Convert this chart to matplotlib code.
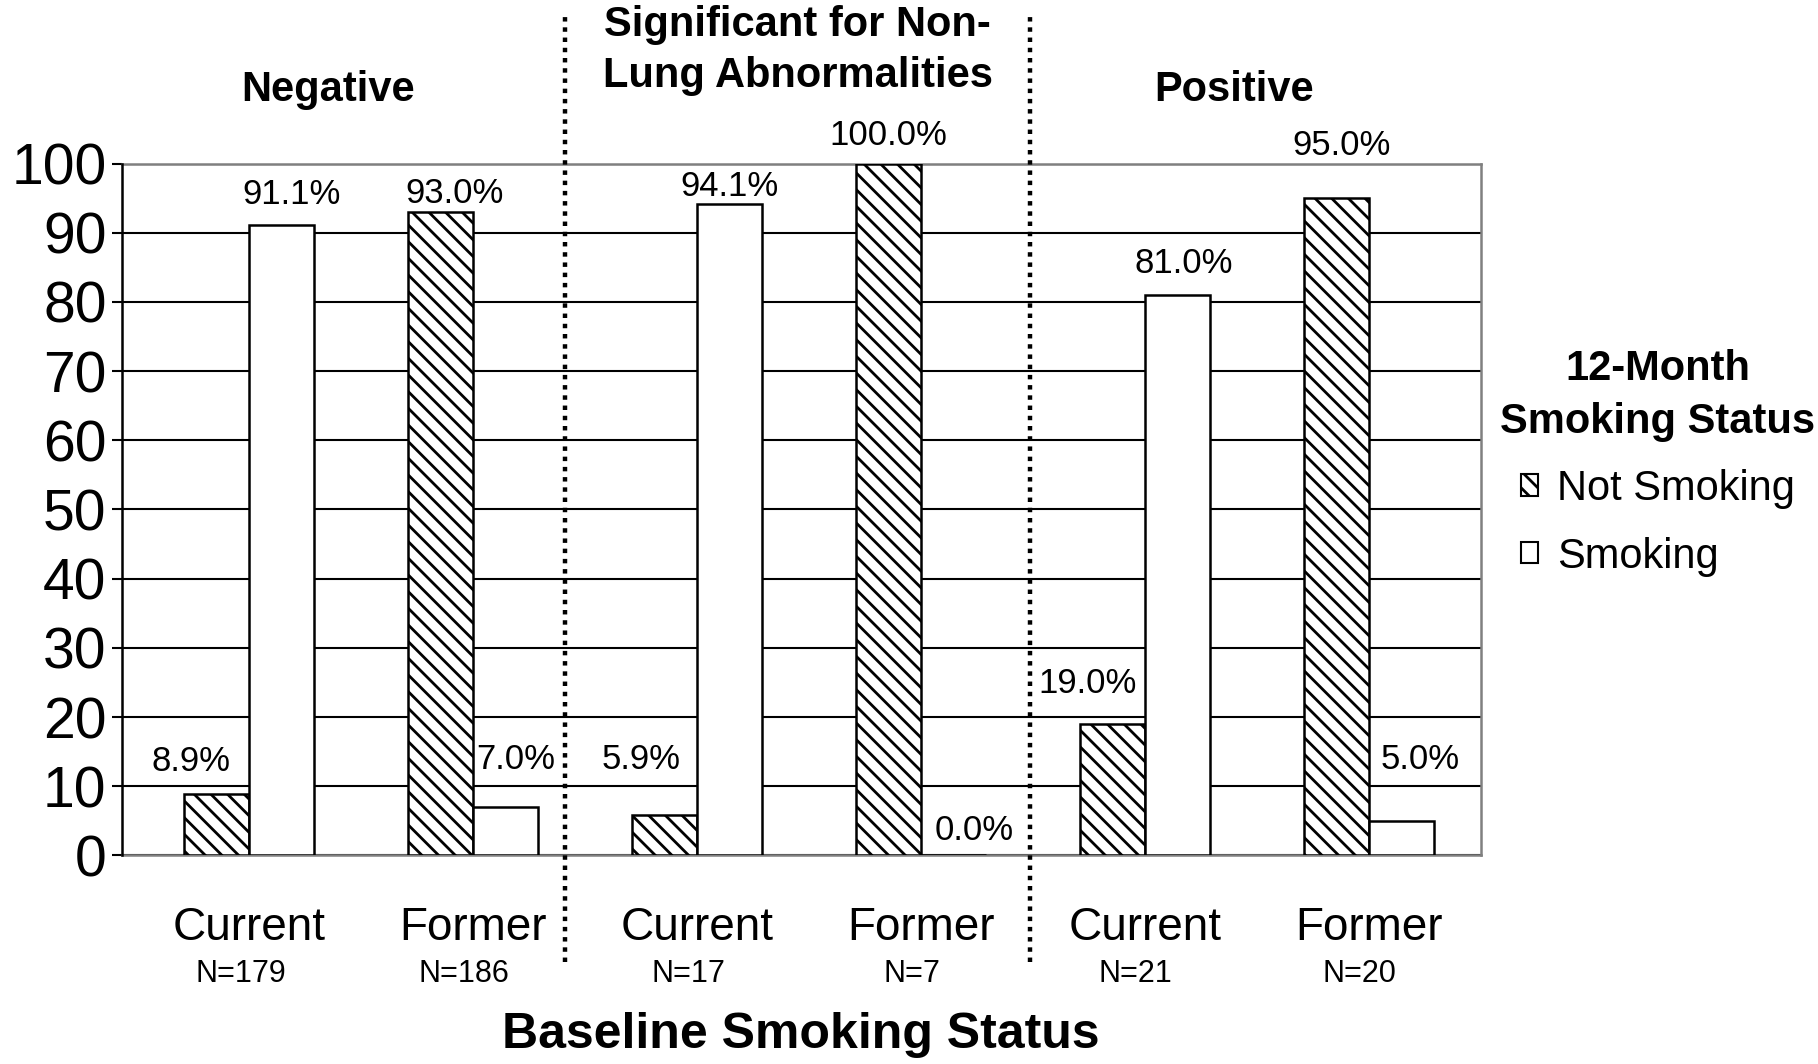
import numpy as np
import matplotlib
matplotlib.use("Agg")
import matplotlib.pyplot as plt
from matplotlib.patches import Patch

plt.rcParams['font.family'] = ['Liberation Sans', 'DejaVu Sans']
plt.rcParams['hatch.linewidth'] = 2.0

# data
categories = ["Current", "Former", "Current", "Former", "Current", "Former"]
sample_sizes = ["N=179", "N=186", "N=17", "N=7", "N=21", "N=20"]
not_smoking = [8.9, 93.0, 5.9, 100.0, 19.0, 95.0]
smoking = [91.1, 7.0, 94.1, 0.0, 81.0, 5.0]
sections = ["Negative", "Significant for Non-\nLung Abnormalities", "Positive"]

# label nudges (points), as placed by hand in the original
ns_dx = [-19, 10, -17, 0, -18, 4]
ns_dy = [23, 13, 40, 20, 29, 38]
sm_dx = [7, 7, 0, 15, 5, 14]
sm_dy = [22, 34, 13, 18, 23, 44]

fig = plt.figure(figsize=(18.18, 10.64), dpi=100)
ax = fig.add_axes([0.067, 0.196, 0.7474, 0.6503])

x = np.arange(len(categories))
w = 0.29

ax.set_xlim(-0.57, len(categories) - 0.5)
ax.set_ylim(0, 100)
ax.set_yticks(np.arange(0, 101, 10))
ax.yaxis.grid(True, color="black", linewidth=1.5, zorder=0)
ax.set_axisbelow(True)

b1 = ax.bar(x - w / 2, not_smoking, w, facecolor="white", edgecolor="black",
            hatch="\\\\", linewidth=1.8, zorder=3)
b2 = ax.bar(x + w / 2, smoking, w, facecolor="white", edgecolor="black",
            linewidth=1.8, zorder=3)

# value labels
for bars, vals, dxs, dys in [(b1, not_smoking, ns_dx, ns_dy), (b2, smoking, sm_dx, sm_dy)]:
    for rect, v, dx, dy in zip(bars, vals, dxs, dys):
        ax.annotate(f"{v:.1f}%", (rect.get_x() + rect.get_width() / 2, v),
                    xytext=(dx, dy), textcoords="offset points",
                    ha="center", va="center", fontsize=25, zorder=6)

# spines
for side in ["top", "right", "bottom"]:
    ax.spines[side].set_color("#808080")
    ax.spines[side].set_linewidth(1.8)
ax.spines["left"].set_color("black")
ax.spines["left"].set_linewidth(1.8)
ax.spines["left"].set_zorder(4)

ax.tick_params(axis="y", labelsize=41, length=7, width=1.5, pad=4)
ax.set_xticks(x)
ax.set_xticklabels([])
ax.tick_params(axis="x", length=0)

# category labels and sample sizes
trans = ax.get_xaxis_transform()
for xi, cat, n in zip(x, categories, sample_sizes):
    ax.text(xi, -0.105, cat, transform=trans, ha="center", va="center", fontsize=33)
    ax.text(xi - 0.04, -0.172, n, transform=trans, ha="center", va="center", fontsize=22)

ax.text(0.5, -0.259, "Baseline Smoking Status", transform=ax.transAxes,
        ha="center", va="center", fontsize=36, fontweight="bold")

# section separators and headers
for sx in [1.41, 3.487]:
    ax.axvline(sx, ymin=-0.154, ymax=1.212, color="black", linestyle=(0, (1, 1.3)),
               linewidth=3.2, clip_on=False, zorder=5)

for sx, sy, name in zip([0.352, 2.45, 4.40], [1.106, 1.163, 1.106], sections):
    ax.text(sx, sy, name, transform=trans, ha="center", va="center",
            fontsize=30, fontweight="bold", linespacing=1.36)

handles = [Patch(facecolor="white", edgecolor="black", hatch="\\\\", linewidth=1.5),
           Patch(facecolor="white", edgecolor="black", linewidth=1.5)]
leg = fig.legend(handles, ["Not Smoking", "Smoking"],
                 title="12-Month\nSmoking Status", loc="center",
                 bbox_to_anchor=(0.912, 0.565), frameon=False, fontsize=30,
                 handlelength=0.42, handleheight=0.42, handletextpad=0.45,
                 labelspacing=0.66,
                 title_fontproperties={"weight": "bold", "size": 30})
leg.get_title().set_multialignment("center")
leg.get_title().set_linespacing(1.4)

fig.savefig("out.png", dpi=100)
